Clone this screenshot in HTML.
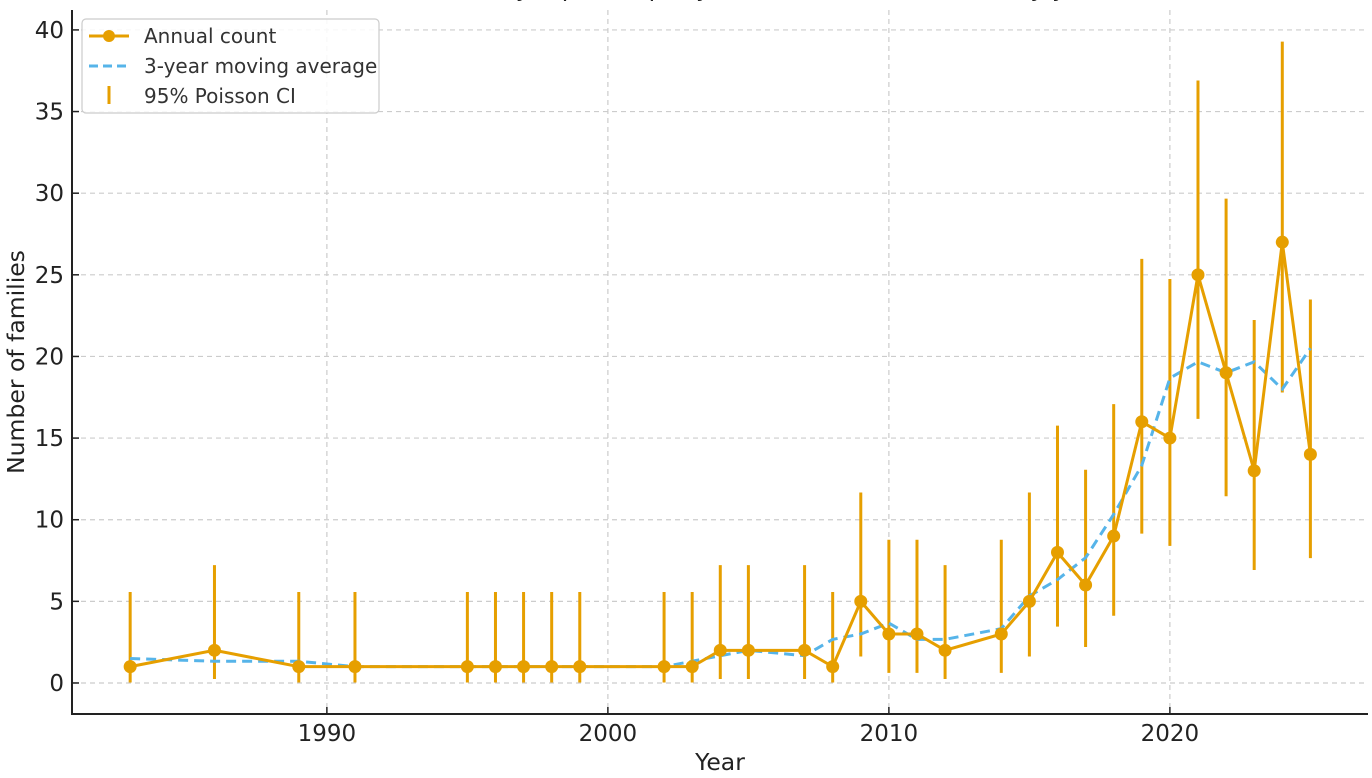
<!DOCTYPE html>
<html><head><meta charset="utf-8"><style>
html,body{margin:0;padding:0;background:#fff;}
svg{display:block;font-family:"DejaVu Sans","Liberation Sans",sans-serif;}
</style></head><body>
<svg id="chart" width="1372" height="778" viewBox="0 0 1372 778" xmlns="http://www.w3.org/2000/svg">
<text x="735" y="-4" font-size="24" text-anchor="middle" fill="#222">Families newly reported per year (with 95% Poisson CI by year)</text>
<g id="grid"></g>
<g id="marks"></g>
<g id="axes"></g>
<g>
<rect x="82" y="19" width="297" height="94" rx="4" fill="#fff" fill-opacity="0.85" stroke="#ccc" stroke-width="1.2"/>
<g>
<line x1="89" y1="36" x2="129" y2="36" stroke="#E69F00" stroke-width="3"/>
<circle cx="109" cy="36" r="6" fill="#E69F00"/>
<text x="144" y="43" font-size="20" fill="#333">Annual count</text></g>
<g>
<line x1="89" y1="66" x2="129" y2="66" stroke="#56B4E9" stroke-width="3" stroke-dasharray="9,5"/>
<text x="144" y="73" font-size="20" fill="#333">3-year moving average</text></g>
<g>
<line x1="109" y1="86" x2="109" y2="104" stroke="#E69F00" stroke-width="3"/>
<text x="144" y="103" font-size="20" fill="#333">95% Poisson CI</text></g>
</g>
</svg>
<script>
const years=[1983,1986,1989,1991,1995,1996,1997,1998,1999,2002,2003,2004,2005,2007,2008,2009,2010,2011,2012,2014,2015,2016,2017,2018,2019,2020,2021,2022,2023,2024,2025];
const counts=[1,2,1,1,1,1,1,1,1,1,1,2,2,2,1,5,3,3,2,3,5,8,6,9,16,15,25,19,13,27,14];
const movingAvg=[1.5,1.33,1.33,1,1,1,1,1,1,1,1.33,1.67,2,1.67,2.67,3,3.67,2.67,2.67,3.33,5.33,6.33,7.67,10.33,13.33,18.67,19.67,19,19.67,18,20.5];
const ciLower=[0.03,0.24,0.03,0.03,0.03,0.03,0.03,0.03,0.03,0.03,0.03,0.24,0.24,0.24,0.03,1.62,0.62,0.62,0.24,0.62,1.62,3.45,2.2,4.12,9.15,8.4,16.18,11.44,6.92,17.79,7.65];
const ciUpper=[5.57,7.22,5.57,5.57,5.57,5.57,5.57,5.57,5.57,5.57,5.57,7.22,7.22,7.22,5.57,11.67,8.77,8.77,7.22,8.77,11.67,15.76,13.06,17.08,25.98,24.74,36.9,29.67,22.23,39.28,23.49];
const xTicks=[1990,2000,2010,2020];
const yTicks=[0,5,10,15,20,25,30,35,40];

const X0=72,X1=1368,Y0=714,Y1=10;
const xMin=1980.93,xMax=2027.05,yMin=-1.9,yMax=41.22;
const sx=v=>X0+(v-xMin)/(xMax-xMin)*(X1-X0);
const sy=v=>Y0-(v-yMin)/(yMax-yMin)*(Y0-Y1);
const NS="http://www.w3.org/2000/svg";
function mk(tag,attrs,parent){const e=document.createElementNS(NS,tag);for(const k in attrs)e.setAttribute(k,attrs[k]);parent.appendChild(e);return e;}
const grid=document.getElementById('grid'),marks=document.getElementById('marks'),axes=document.getElementById('axes');

xTicks.forEach(t=>{
 const g=mk('line',{x1:sx(t),x2:sx(t),y1:Y1,y2:Y0,stroke:'#ccc','stroke-width':1.2,'stroke-dasharray':'5,4'},grid);
 
 
 const tk=mk('line',{x1:sx(t),x2:sx(t),y1:Y0,y2:Y0-7,stroke:'#222','stroke-width':1.5},axes);
 
 
 const tl=mk('text',{x:sx(t),y:Y0+27,'font-size':23,'text-anchor':'middle',fill:'#222'},axes);
 tl.textContent=t;
 
 
});
yTicks.forEach(t=>{
 const g=mk('line',{x1:X0,x2:X1,y1:sy(t),y2:sy(t),stroke:'#ccc','stroke-width':1.2,'stroke-dasharray':'5,4'},grid);
 
 
 const tk=mk('line',{x1:X0,x2:X0+7,y1:sy(t),y2:sy(t),stroke:'#222','stroke-width':1.5},axes);
 
 
 const tl=mk('text',{x:X0-8,y:sy(t)+8,'font-size':23,'text-anchor':'end',fill:'#222'},axes);
 tl.textContent=t;
 
 
});
const sp=mk('path',{d:`M${X0},${Y1}V${Y0}H${X1}`,fill:'none',stroke:'#222','stroke-width':2},axes);


const xl=mk('text',{x:(X0+X1)/2,y:770,'font-size':23.5,'text-anchor':'middle',fill:'#222'},axes);
xl.textContent='Year';


const yl=mk('text',{x:0,y:0,'font-size':23.5,'text-anchor':'middle',fill:'#222',transform:`translate(24,${(Y0+Y1)/2}) rotate(-90)`},axes);
yl.textContent='Number of families';



years.forEach((y,i)=>{
 const e=mk('line',{x1:sx(y),x2:sx(y),y1:sy(ciLower[i]),y2:sy(ciUpper[i]),stroke:'#E69F00','stroke-width':3},marks);
 
 
});
const ma=mk('polyline',{points:years.map((y,i)=>sx(y)+','+sy(movingAvg[i])).join(' '),fill:'none',stroke:'#56B4E9','stroke-width':3,'stroke-dasharray':'10,6'},marks);


const cl=mk('polyline',{points:years.map((y,i)=>sx(y)+','+sy(counts[i])).join(' '),fill:'none',stroke:'#E69F00','stroke-width':3},marks);


years.forEach((y,i)=>{
 const c=mk('circle',{cx:sx(y),cy:sy(counts[i]),r:6.5,fill:'#E69F00'},marks);
 
 
});
</script>
</body></html>
